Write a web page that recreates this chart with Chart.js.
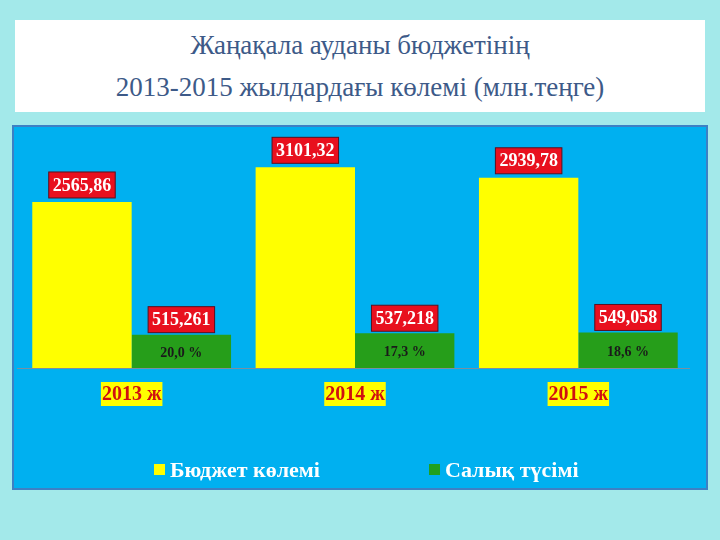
<!DOCTYPE html>
<html>
<head>
<meta charset="utf-8">
<script src="https://cdn.jsdelivr.net/npm/chart.js@4"></script>
<style>
  body { margin: 0; width: 720px; height: 540px; background: #a3e9ea; position: relative; overflow: hidden; }
  #titul { position: absolute; left: 15px; top: 20px; width: 690px; height: 92px; background: #fff;
    font-family: "Liberation Serif", serif; font-size: 27px; color: #3d5a88; text-align: center; line-height: 42px; padding-top: 4px; box-sizing: border-box; }
  #caja { position: absolute; left: 12px; top: 125px; width: 696px; height: 365px; background: #00b0f0;
    border: 2px solid #3d80c4; box-sizing: border-box; }
</style>
</head>
<body>
<div id="titul">Жаңақала ауданы бюджетінің<br>2013-2015 жылдардағы көлемі (млн.теңге)</div>
<div id="caja"><canvas id="grafica" width="692" height="361"></canvas></div>
<script>
const anios = ['2013 ж', '2014 ж', '2015 ж'];
const presupuesto = [2565.86, 3101.32, 2939.78];
const impuestos = [515.261, 537.218, 549.058];
const etiquetasPresupuesto = ['2565,86', '3101,32', '2939,78'];
const etiquetasImpuestos = ['515,261', '537,218', '549,058'];
const porcentajes = ['20,0 %', '17,3 %', '18,6 %'];

const FUENTE = '"Liberation Serif", serif';

// CAJA ROJA CON TEXTO BLANCO
const cajaRoja = (ctx, texto, x, y) => {
  ctx.font = 'bold 18px ' + FUENTE;
  const ancho = ctx.measureText(texto).width + 8;
  ctx.fillStyle = '#e8101e';
  ctx.fillRect(x - ancho / 2, y - 26, ancho, 26);
  ctx.strokeStyle = '#5a1020';
  ctx.lineWidth = 1;
  ctx.strokeRect(x - ancho / 2, y - 26, ancho, 26);
  ctx.fillStyle = '#fff';
  ctx.textAlign = 'center';
  ctx.textBaseline = 'middle';
  ctx.fillText(texto, x, y - 12);
};

const etiquetas = {
  id: 'etiquetas',
  afterDatasetsDraw(chart) {
    const ctx = chart.ctx;
    const escalaX = chart.scales.x;
    const base = chart.scales.y.getPixelForValue(0);
    ctx.save();
    // linea base
    ctx.strokeStyle = '#7a8fa0';
    ctx.lineWidth = 1;
    ctx.beginPath();
    ctx.moveTo(3, base + 0.5);
    ctx.lineTo(676, base + 0.5);
    ctx.stroke();

    chart.getDatasetMeta(0).data.forEach((barra, i) => {
      cajaRoja(ctx, etiquetasPresupuesto[i], barra.x, barra.y - 4);
    });
    chart.getDatasetMeta(1).data.forEach((barra, i) => {
      cajaRoja(ctx, etiquetasImpuestos[i], barra.x, barra.y - 2);
      ctx.font = 'bold 14px ' + FUENTE;
      ctx.fillStyle = '#1a1a1a';
      ctx.fillText(porcentajes[i], barra.x, (barra.y + base) / 2 + 2);
    });

    // etiquetas de años
    anios.forEach((anio, i) => {
      const x = escalaX.getPixelForValue(i);
      ctx.font = 'bold 20px ' + FUENTE;
      const ancho = ctx.measureText(anio).width + 2;
      ctx.fillStyle = '#ffff00';
      ctx.fillRect(x - ancho / 2, 255, ancho, 24);
      ctx.fillStyle = '#d01010';
      ctx.fillText(anio, x, 268);
    });

    // leyenda
    const leyenda = [['Бюджет көлемі', '#ffff00', 140], ['Салық түсімі', '#20a020', 415]];
    leyenda.forEach(([texto, color, x]) => {
      ctx.fillStyle = color;
      ctx.fillRect(x, 337, 11, 11);
      ctx.font = 'bold 22px ' + FUENTE;
      ctx.fillStyle = '#fff';
      ctx.textAlign = 'left';
      ctx.fillText(texto, x + 16, 344);
    });
    ctx.restore();
  }
};

new Chart(document.getElementById('grafica'), {
  type: 'bar',
  data: {
    labels: anios,
    datasets: [
      { label: 'Бюджет көлемі', data: presupuesto, backgroundColor: '#ffff00' },
      { label: 'Салық түсімі', data: impuestos, backgroundColor: '#269e1a' }
    ]
  },
  options: {
    responsive: false,
    animation: false,
    layout: { padding: { left: 6, right: 16, top: 10, bottom: 120 } },
    datasets: { bar: { categoryPercentage: 0.89, barPercentage: 1 } },
    plugins: { legend: { display: false }, tooltip: { enabled: false } },
    scales: {
      x: { display: false },
      y: { display: false, min: 0, max: 3570 }
    }
  },
  plugins: [etiquetas]
});
</script>
</body>
</html>
